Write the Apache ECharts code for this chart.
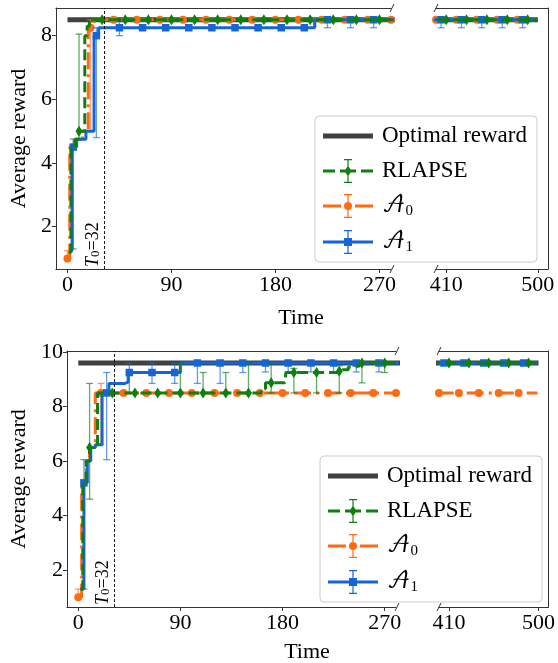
<!DOCTYPE html>
<html><head><meta charset="utf-8">
<script src="https://cdn.jsdelivr.net/npm/echarts@6/dist/echarts.min.js"></script>
<style>html,body{margin:0;padding:0;background:#fff}#c{width:558px;height:663px}</style>
</head><body><div id="c"></div>
<script>
// ---------- tick labels ----------
const xLeftTicks = [0, 90, 180, 270];
const xRightTicks = [410, 500];
const yTopTicks = [2, 4, 6, 8];
const yBotTicks = [2, 4, 6, 8, 10];
const T0 = 32;

// ---------- top panel ----------
const topOptimal = [[0, 8.5], [500, 8.5]];
const topRlapseSteps = [[1,1.2],[3,4.5],[7,4.75],[10,5.0],[15,8.0],[17,8.3],[19,8.5],[499,8.5]];
const topRlapseMarks = [[10,5.0],[30,8.5],[50,8.5],[70,8.5],[90,8.5],[110,8.5],[130,8.5],[150,8.5],[170,8.5],[190,8.5],[210,8.5],[230,8.5],[250,8.5],[270,8.5],[410,8.5],[430,8.5],[450,8.5],[470,8.5],[490,8.5]];
const topRlapseErr = [[10,4.75,8.05]];
const topA0Steps = [[0,1.0],[2,4.5],[6,4.75],[13,5.0],[18,8.25],[23,8.5],[499,8.5]];
const topA0Marks = [[0,1.0],[20,8.25],[40,8.5],[60,8.5],[80,8.5],[100,8.5],[120,8.5],[140,8.5],[160,8.5],[180,8.5],[200,8.5],[220,8.5],[240,8.5],[260,8.5],[280,8.5],[400,8.5],[420,8.5],[440,8.5],[460,8.5],[480,8.5]];
const topA0Err = [[0,1.0,1.25],[20,5.0,8.5]];
const topA1Steps = [[2,1.25],[4,4.5],[8,4.75],[16,5.0],[23,8.0],[27,8.25],[214,8.5],[499,8.5]];
const topA1Marks = [[5,4.5],[25,8.0],[45,8.25],[65,8.25],[85,8.25],[105,8.25],[125,8.25],[145,8.25],[165,8.25],[185,8.25],[205,8.25],[225,8.5],[245,8.5],[265,8.5],[405,8.5],[425,8.5],[445,8.5],[465,8.5],[485,8.5]];
const topA1Err = [[5,1.3,4.75],[25,4.8,8.25],[45,8.0,8.5],[225,8.25,8.5],[245,8.25,8.5],[265,8.25,8.5],[405,8.25,8.5],[425,8.25,8.5],[445,8.25,8.5],[465,8.25,8.5],[485,8.25,8.5]];

// ---------- bottom panel ----------
const botOptimal = [[0, 9.6], [500, 9.6]];
const botRlapseSteps = [[2,1.3],[4,5.2],[7,6.0],[10,6.5],[14,6.6],[17,8.5],[158,8.5],[161,8.65],[165,8.87],[182,8.87],[183,9.25],[229,9.25],[233,9.35],[238,9.45],[243,9.5],[248,9.6],[499,9.6]];
const botRlapseMarks = [[10,6.5],[30,8.5],[50,8.5],[70,8.5],[90,8.5],[110,8.5],[130,8.5],[150,8.5],[170,8.87],[190,9.25],[210,9.25],[230,9.3],[250,9.6],[270,9.6],[410,9.6],[430,9.6],[450,9.6],[470,9.6],[490,9.6]];
const botRlapseErr = [[10,4.6,8.85],[90,8.5,9.6],[110,8.5,9.25],[130,8.5,9.25],[150,8.5,9.6],[170,8.5,9.6],[190,8.5,9.4],[210,8.5,9.25],[230,8.5,9.5],[250,8.87,9.6],[270,9.25,9.6]];
const botA0Steps = [[0,1.0],[3,5.2],[7,6.0],[10,6.5],[15,8.5],[499,8.5]];
const botA0Marks = [[0,1.0],[20,8.5],[40,8.5],[60,8.5],[80,8.5],[100,8.5],[120,8.5],[140,8.5],[160,8.5],[180,8.5],[200,8.5],[220,8.5],[240,8.5],[260,8.5],[280,8.5],[400,8.5],[420,8.5],[440,8.5],[460,8.5],[480,8.5]];
const botA0Err = [[0,1.0,1.3],[20,6.6,8.85]];
const botA1Steps = [[2,1.3],[5,5.2],[8,6.0],[11,6.5],[15,6.6],[21,8.5],[27,8.85],[41,8.9],[44,9.25],[90,9.6],[499,9.6]];
const botA1Marks = [[5,5.2],[25,8.5],[45,9.25],[65,9.25],[85,9.25],[105,9.6],[125,9.6],[145,9.6],[165,9.6],[185,9.6],[205,9.6],[225,9.6],[245,9.6],[265,9.6],[405,9.6],[425,9.6],[445,9.6],[465,9.6],[485,9.6]];
const botA1Err = [[5,1.3,6.05],[25,6.05,9.25],[45,8.5,9.6],[65,8.85,9.6],[85,8.85,9.6],[105,8.85,9.6],[125,8.85,9.6],[145,9.25,9.6],[165,9.27,9.6],[185,9.27,9.6],[205,9.27,9.6],[225,9.27,9.6],[245,9.27,9.6],[265,9.27,9.6]];

// ---------- layout & style ----------
const FONT = "'Liberation Serif','DejaVu Serif',serif";
const MATHFONT = "'DejaVu Math TeX Gyre','DejaVu Serif','DejaVu Sans',serif";
const AX = '#333333';
const COL = {opt:'#404040', green:'#0f800f', orange:'#ff6a12', blue:'#1565d8'};
const GRIDS = [
  {left:54, top:8, width:337, height:261},
  {left:436, top:8, width:112, height:261},
  {left:65, top:351, width:331, height:256},
  {left:439, top:351, width:110, height:256}
];
const XR = [[-10,280],[400,510]];
const YR = [[0.67,8.87],[0.64,10.04]];

const NAMES = {opt:'Optimal reward', rl:'RLAPSE', a0:'\u{1D49C}0', a1:'\u{1D49C}1'};

const panels = [
  {opt:topOptimal, rl:[topRlapseSteps,topRlapseMarks,topRlapseErr], a0:[topA0Steps,topA0Marks,topA0Err], a1:[topA1Steps,topA1Marks,topA1Err]},
  {opt:botOptimal, rl:[botRlapseSteps,botRlapseMarks,botRlapseErr], a0:[botA0Steps,botA0Marks,botA0Err], a1:[botA1Steps,botA1Marks,botA1Err]}
];

const lineSpec = {
  a0:{color:COL.orange, type:[17,5,3,5], symbol:'circle', size:8, z:2},
  a1:{color:COL.blue, type:'solid', symbol:'rect', size:7.5, z:3},
  rl:{color:COL.green, type:[11,5], symbol:'diamond', size:[7,11], z:4}
};

const axisLineStyle = {color:AX, width:1};
const xAxis = [], yAxis = [];
GRIDS.forEach((g, gi) => {
  const isLeft = gi % 2 === 0;
  const row = gi < 2 ? 0 : 1;
  const xr = XR[isLeft ? 0 : 1];
  const yr = YR[row];
  const xt = isLeft ? xLeftTicks : xRightTicks;
  xAxis.push({type:'value', gridIndex:gi, min:xr[0], max:xr[1], position:'bottom',
    axisLine:{show:true, onZero:false, lineStyle:axisLineStyle},
    axisTick:{show:true, length:4, customValues:xt, lineStyle:axisLineStyle},
    axisLabel:{customValues:xt, fontSize:22, fontFamily:FONT, color:'#000', margin:5},
    splitLine:{show:false}});
  xAxis.push({type:'value', gridIndex:gi, min:xr[0], max:xr[1], position:'top',
    axisLine:{show:true, onZero:false, lineStyle:axisLineStyle},
    axisTick:{show:false}, axisLabel:{show:false}, splitLine:{show:false}});
  if (isLeft) {
    const yt = row === 0 ? yTopTicks : yBotTicks;
    yAxis.push({type:'value', gridIndex:gi, min:yr[0], max:yr[1], position:'left',
      name:'Average reward', nameLocation:'middle', nameGap: row === 0 ? 23 : 34,
      nameTextStyle:{fontSize:22, fontFamily:FONT, color:'#000'},
      axisLine:{show:true, onZero:false, lineStyle:axisLineStyle},
      axisTick:{show:true, length:4, customValues:yt, lineStyle:axisLineStyle},
      axisLabel:{customValues:yt, fontSize:22, fontFamily:FONT, color:'#000', margin:4},
      splitLine:{show:false}});
  } else {
    yAxis.push({type:'value', gridIndex:gi, min:yr[0], max:yr[1], position:'right',
      axisLine:{show:true, onZero:false, lineStyle:axisLineStyle},
      axisTick:{show:false}, axisLabel:{show:false}, splitLine:{show:false}});
  }
});

function errRender(color) {
  return function (params, api) {
    const x = api.value(0), lo = api.value(1), hi = api.value(2);
    const a = api.coord([x, lo]), b = api.coord([x, hi]);
    const w = 3.5;
    const st = {stroke: color, lineWidth: 1.3, opacity: 0.65};
    return {type:'group', children:[
      {type:'line', shape:{x1:a[0], y1:a[1], x2:b[0], y2:b[1]}, style:st},
      {type:'line', shape:{x1:a[0]-w, y1:a[1], x2:a[0]+w, y2:a[1]}, style:st},
      {type:'line', shape:{x1:b[0]-w, y1:b[1], x2:b[0]+w, y2:b[1]}, style:st}
    ]};
  };
}

const t0Label = {
  show:true, position:'insideStartTop', distance:2, color:'#000',
  formatter:'{t|T}{s|0}{n|=' + T0 + '}',
  rich:{
    t:{fontStyle:'italic', fontSize:18, fontFamily:FONT, lineHeight:19, color:'#000'},
    s:{fontSize:13, fontFamily:FONT, lineHeight:13, verticalAlign:'bottom', color:'#000'},
    n:{fontSize:18, fontFamily:FONT, lineHeight:19, color:'#000'}
  }
};

const series = [];
panels.forEach((p, row) => {
  [0, 1].forEach(side => {
    const gi = row * 2 + side;
    const xi = gi * 2, yi = gi;
    const opt = {type:'line', name:NAMES.opt, xAxisIndex:xi, yAxisIndex:yi, data:p.opt,
      showSymbol:false, symbol:'none', lineStyle:{color:COL.opt, width:5}, itemStyle:{color:COL.opt},
      z:1, silent:true, clip:true};
    if (side === 0) {
      opt.markLine = {silent:true, symbol:['none','none'], animation:false,
        lineStyle:{color:'#000', width:0.9, type:[3,2]},
        label:t0Label, data:[{xAxis:T0}]};
    }
    series.push(opt);
    ['a0','a1','rl'].forEach(k => {
      const s = lineSpec[k];
      const [steps, marks, errs] = p[k];
      series.push({type:'line', name:NAMES[k], xAxisIndex:xi, yAxisIndex:yi, data:steps, step:'end',
        showSymbol:false, symbol:'none', lineStyle:{color:s.color, width:3, type:s.type},
        itemStyle:{color:s.color}, z:s.z, silent:true, clip:true});
      series.push({type:'custom', name:NAMES[k], xAxisIndex:xi, yAxisIndex:yi, data:errs,
        encode:{x:0, y:[1,2]}, renderItem:errRender(s.color), z:s.z, silent:true, clip:true});
      series.push({type:'scatter', name:NAMES[k], xAxisIndex:xi, yAxisIndex:yi, data:marks,
        symbol:s.symbol, symbolSize:s.size, itemStyle:{color:s.color, opacity:1}, z:s.z, silent:true, clip:true});
    });
  });
});

// legend icons (line + marker + error bar), box 50x24
const errPath = 'M24.4 0 H25.6 V24 H24.4 Z M21 0 H29 V1.2 H21 Z M21 22.8 H29 V24 H21 Z';
const ICONS = {
  opt:'path://M0 0 L0.02 0 L0 0.02 Z M0 9.5 H50 V14.5 H0 Z M0 24 L0.02 24 L0 23.98 Z',
  rl:'path://M0 10.5 H12 V13.5 H0 Z M17 10.5 H33 V13.5 H17 Z M38 10.5 H50 V13.5 H38 Z M25 6.5 L28.5 12 L25 17.5 L21.5 12 Z ' + errPath,
  a0:'path://M0 10.5 H18 V13.5 H0 Z M32 10.5 H50 V13.5 H32 Z M21 12 A4 4 0 1 1 29 12 A4 4 0 1 1 21 12 Z ' + errPath,
  a1:'path://M0 10.5 H50 V13.5 H0 Z M21 8 H29 V16 H21 Z ' + errPath
};
function legendCfg(left, top) {
  return {
    orient:'vertical', left:left, top:top, itemWidth:50, itemHeight:24, itemGap:11,
    padding:[8,10,7,8], borderColor:'#cccccc', borderWidth:1, borderRadius:4,
    backgroundColor:'rgba(255,255,255,0.8)', selectedMode:false, itemStyle:{borderWidth:0},
    textStyle:{fontSize:23, fontFamily:FONT, color:'#000', padding:[0,0,0,4],
      rich:{
        a:{fontFamily:MATHFONT, fontSize:22, lineHeight:26, color:'#000'},
        s:{fontFamily:FONT, fontSize:15, lineHeight:15, verticalAlign:'bottom', color:'#000'}
      }},
    formatter: function (name) {
      if (name === NAMES.a0) return '{a|\u{1D49C}}{s|0}';
      if (name === NAMES.a1) return '{a|\u{1D49C}}{s|1}';
      return name;
    },
    data:[
      {name:NAMES.opt, icon:ICONS.opt, itemStyle:{color:COL.opt}},
      {name:NAMES.rl, icon:ICONS.rl, itemStyle:{color:COL.green}},
      {name:NAMES.a0, icon:ICONS.a0, itemStyle:{color:COL.orange}},
      {name:NAMES.a1, icon:ICONS.a1, itemStyle:{color:COL.blue}}
    ]
  };
}

// broken-axis marks and shared x labels
const graphic = [];
function slash(cx, cy) {
  return {type:'line', silent:true, shape:{x1:cx-2, y1:cy+4, x2:cx+2, y2:cy-4}, style:{stroke:AX, lineWidth:1}};
}
[[0,1,318],[2,3,652]].forEach(([l, r, ty]) => {
  const L = GRIDS[l], R = GRIDS[r];
  const le = L.left + L.width;
  [L.top, L.top + L.height].forEach(y => { graphic.push(slash(le + 1, y)); graphic.push(slash(R.left, y)); });
  graphic.push({type:'text', silent:true, x:(L.left + R.left + R.width) / 2, y:ty,
    style:{text:'Time', fontSize:22, fontFamily:FONT, fill:'#000', align:'center', verticalAlign:'middle'}});
});

const chart = echarts.init(document.getElementById('c'), null, {renderer:'canvas'});
chart.setOption({
  animation:false,
  backgroundColor:'#ffffff',
  grid:GRIDS.map(g => Object.assign({containLabel:false}, g)),
  xAxis:xAxis, yAxis:yAxis,
  legend:[legendCfg(315, 116), legendCfg(320, 456)],
  series:series,
  graphic:graphic
});
</script></body></html>
